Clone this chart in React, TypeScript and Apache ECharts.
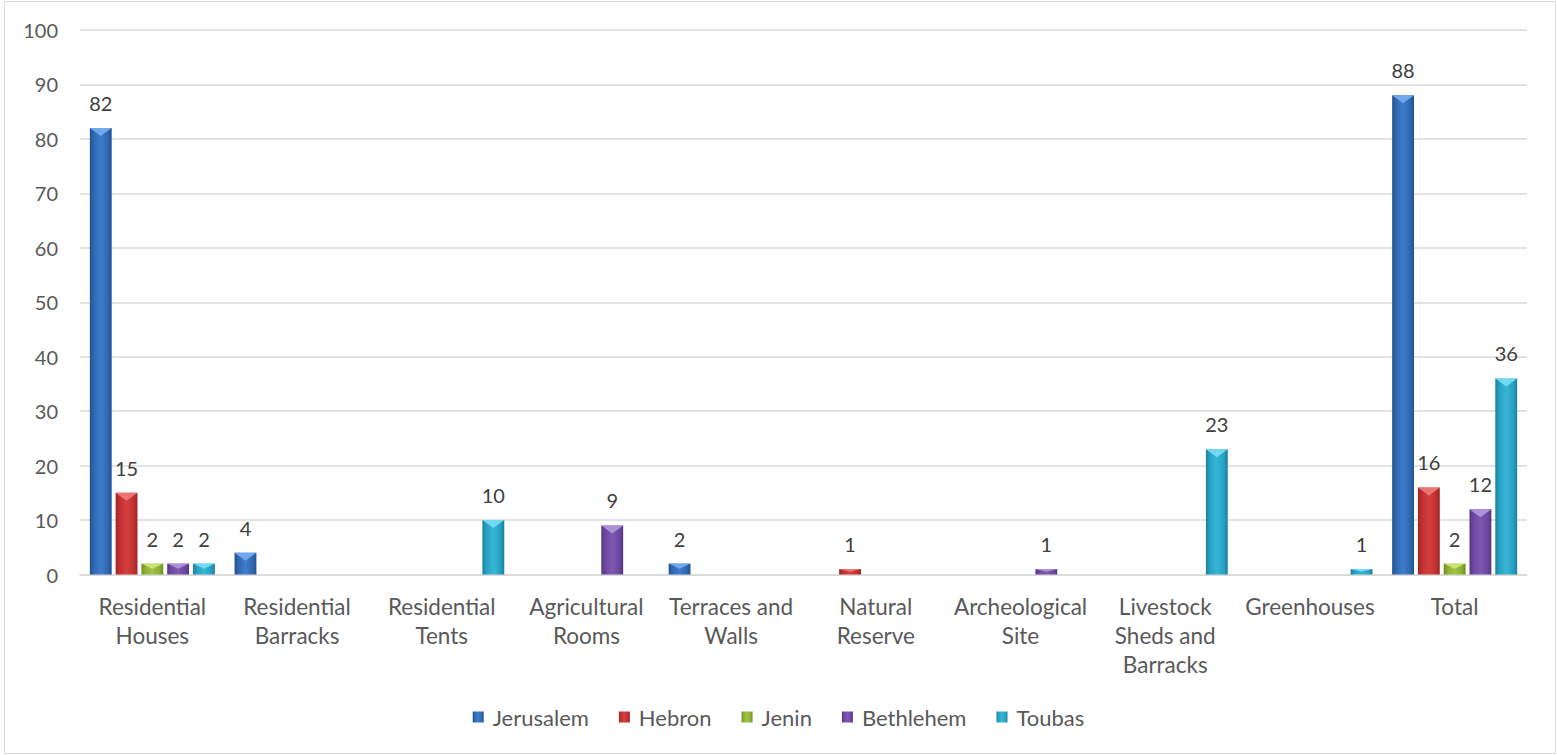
import React, { useEffect, useRef } from "react";
import * as echarts from "echarts";

const categories = [
  "Residential\nHouses",
  "Residential\nBarracks",
  "Residential\nTents",
  "Agricultural\nRooms",
  "Terraces and\nWalls",
  "Natural\nReserve",
  "Archeological\nSite",
  "Livestock\nSheds and\nBarracks",
  "Greenhouses",
  "Total",
];

const jerusalem = [82, 4, null, null, 2, null, null, null, null, 88];
const hebron = [15, null, null, null, null, 1, null, null, null, 16];
const jenin = [2, null, null, null, null, null, null, null, null, 2];
const bethlehem = [2, null, null, 9, null, null, 1, null, null, 12];
const toubas = [2, null, 10, null, null, null, null, 23, 1, 36];

const seriesNames = ["Jerusalem", "Hebron", "Jenin", "Bethlehem", "Toubas"];
const seriesValues = [jerusalem, hebron, jenin, bethlehem, toubas];

const palette = [
  { dark: "#23528f", mid: "#2f68b0", light: "#3f7ccc", top: "#74aef0" },
  { dark: "#9e2628", mid: "#c1302f", light: "#d4403f", top: "#f07c7a" },
  { dark: "#6e8d22", mid: "#8cb035", light: "#a0c444", top: "#cfe67c" },
  { dark: "#553581", mid: "#6d48a0", light: "#7e58b2", top: "#b398dd" },
  { dark: "#1a7f9c", mid: "#27a1c2", light: "#38b5d6", top: "#78def5" },
];

const FONT = "Lato, 'Liberation Sans', sans-serif";
const GAP_CAT = "13.6%";
const GAP_BAR = "18%";

export default function App() {
  const ref = useRef<HTMLDivElement>(null);

  useEffect(() => {
    if (!ref.current) return;
    const chart = echarts.init(ref.current, undefined, { renderer: "svg" });

    const bars = seriesNames.map((name, i) => ({
      type: "bar",
      name,
      data: seriesValues[i],
      barCategoryGap: GAP_CAT,
      barGap: GAP_BAR,
      z: 2,
      itemStyle: {
        color: new echarts.graphic.LinearGradient(0, 0, 1, 0, [
          { offset: 0, color: palette[i].dark },
          { offset: 0.18, color: palette[i].mid },
          { offset: 0.5, color: palette[i].light },
          { offset: 0.82, color: palette[i].mid },
          { offset: 1, color: palette[i].dark },
        ]),
      },
      label: {
        show: true,
        position: "top",
        distance: 15,
        color: "#404040",
        fontSize: 20,
        fontFamily: FONT,
      },
    }));

    const tops = seriesNames.map((name, i) => ({
      type: "pictorialBar",
      name,
      silent: true,
      z: 3,
      barCategoryGap: GAP_CAT,
      barGap: GAP_BAR,
      symbol: "path://M0,0 L20,0 L10,6 Z",
      symbolPosition: "end",
      symbolSize: ["100%", 8],
      itemStyle: { color: palette[i].top, opacity: 0.9 },
      data: seriesValues[i].map((v) =>
        v == null ? null : { value: v, symbolSize: ["100%", Math.min(8, v * 2.6)] }
      ),
      label: { show: false },
    }));

    chart.setOption({
      animation: false,
      backgroundColor: "#ffffff",
      textStyle: { fontFamily: FONT },
      graphic: [
        {
          type: "rect",
          shape: { x: 4.5, y: 1.5, width: 1551, height: 752 },
          style: { fill: "none", stroke: "#d9d9d9", lineWidth: 1 },
          silent: true,
        },
      ],
      grid: {
        left: 80,
        right: 30,
        top: 30,
        bottom: 180.5,
        containLabel: false,
        outerBoundsMode: "none",
      },
      legend: {
        data: seriesNames,
        top: 701,
        left: "center",
        icon: "rect",
        itemWidth: 11,
        itemHeight: 11,
        itemGap: 30,
        textStyle: { color: "#595959", fontSize: 22, fontFamily: FONT, padding: [0, 0, 0, 4] },
      },
      xAxis: {
        type: "category",
        data: categories,
        axisTick: { show: false },
        axisLine: { lineStyle: { color: "#d9d9d9", width: 1.5 } },
        axisLabel: {
          color: "#595959",
          fontSize: 22.5,
          fontFamily: FONT,
          lineHeight: 29,
          margin: 17,
          interval: 0,
        },
      },
      yAxis: {
        type: "value",
        min: 0,
        max: 100,
        interval: 10,
        axisLine: { show: false },
        axisTick: { show: false },
        splitLine: { lineStyle: { color: "#d9d9d9", width: 1.5 } },
        axisLabel: {
          color: "#595959",
          fontSize: 20,
          fontFamily: FONT,
          margin: 22,
        },
      },
      series: [...bars, ...tops],
    });

    return () => chart.dispose();
  }, []);

  return (
    <div
      ref={ref}
      style={{ position: "fixed", left: 0, top: 0, width: 1557, height: 755 }}
    />
  );
}
